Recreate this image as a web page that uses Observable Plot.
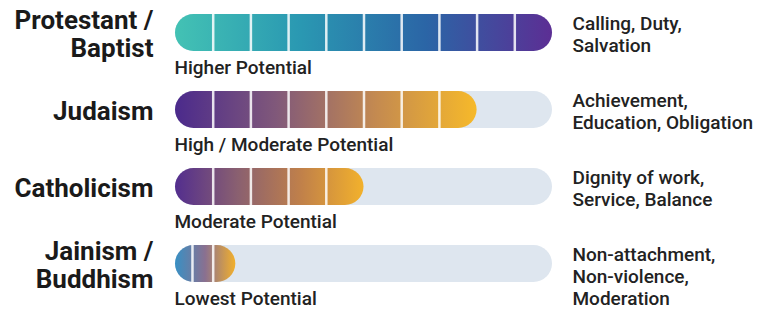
<!DOCTYPE html>
<html><head><meta charset="utf-8">
<script src="https://cdn.jsdelivr.net/npm/d3@7"></script>
<script src="https://cdn.jsdelivr.net/npm/@observablehq/plot@0.6"></script>
<style>body{margin:0;background:#fff} svg{display:block}</style>
</head><body><div id="chart"></div>
<script>
const religions = ["Protestant /\nBaptist", "Judaism", "Catholicism", "Jainism /\nBuddhism"];
const potential = [10, 8, 5, 1.6];
const potentialLabels = ["Higher Potential", "High / Moderate Potential", "Moderate Potential", "Lowest Potential"];
const valueLabels = ["Calling, Duty,\nSalvation", "Achievement,\nEducation, Obligation", "Dignity of work,\nService, Balance", "Non-attachment,\nNon-violence,\nModeration"];
const segmentBreaks = [[1,2,3,4,5,6,7,8,9],[1,2,3,4,5,6,7],[1,2,3,4],[0.45,1]];
const gradientStops = [
  ["#43c2b4","#2a98b2","#2b65a6","#5c2e94"],
  ["#4b2a8c","#80587a","#c48a50","#f6b92a"],
  ["#532e8e","#8a6070","#c0804a","#f2b12c"],
  ["#3890c4","#8a7090","#f2b02c"]
];
const maxScale = 10;

const rows = religions.map((r, i) => ({religion: r, potential: potential[i], label: potentialLabels[i], values: valueLabels[i], grad: `url(#grad${i})`}));
const breaks = religions.flatMap((r, i) => segmentBreaks[i].map(b => ({religion: r, x: b})));

const font = "Roboto, 'Liberation Sans', Arial, sans-serif";

const chart = Plot.plot({
  width: 762,
  height: 309,
  marginLeft: 175,
  marginRight: 210,
  marginTop: 13,
  marginBottom: 27,
  style: {fontFamily: font, background: "#fff", color: "#222"},
  x: {domain: [0, maxScale], axis: null},
  y: {domain: religions, axis: null, paddingInner: 0.52, paddingOuter: 0},
  color: {type: "identity"},
  marks: [
    Plot.barX(rows, {y: "religion", x1: 0, x2: maxScale, fill: "#dee6ef", rx: 18.5}),
    Plot.barX(rows, {y: "religion", x1: 0, x2: "potential", fill: "grad", rx: 18.5}),
    Plot.tickX(breaks, {x: "x", y: "religion", stroke: "#ffffff", strokeWidth: 2.5, strokeOpacity: 0.85}),
    Plot.text(rows, {y: "religion", frameAnchor: "left", dx: -22, dy: 1, text: "religion", textAnchor: "end", fontSize: 26, fontWeight: 700, lineHeight: 1.1, fill: "#1a1a1a"}),
    Plot.text(rows, {y: "religion", frameAnchor: "left", dx: -1, dy: 35, text: "label", textAnchor: "start", fontSize: 19, fontWeight: 500, fill: "#222"}),
    Plot.text(rows, {y: "religion", frameAnchor: "right", dx: 20, dy: -19, text: "values", textAnchor: "start", lineAnchor: "top", fontSize: 19, fontWeight: 500, lineHeight: 1.16, fill: "#222"})
  ]
});

const defs = d3.select(chart).insert("defs", ":first-child");
gradientStops.forEach((stops, i) => {
  const g = defs.append("linearGradient").attr("id", `grad${i}`).attr("x1", 0).attr("x2", 1).attr("y1", 0).attr("y2", 0);
  stops.forEach((c, j) => g.append("stop").attr("offset", j / (stops.length - 1)).attr("stop-color", c));
});
document.getElementById("chart").appendChild(chart);
</script>
</body></html>
